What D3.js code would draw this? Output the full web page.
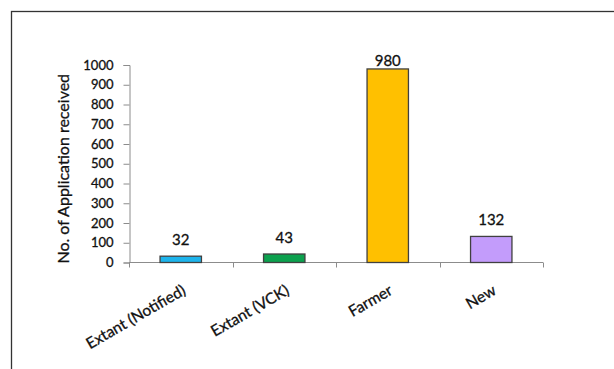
<!DOCTYPE html>
<html>
<head>
<meta charset="utf-8">
<script src="https://cdn.jsdelivr.net/npm/d3@7"></script>
<style>
  html, body { margin: 0; padding: 0; background: #fff; }
  svg { display: block; }
  text { font-family: Lato, "Open Sans", sans-serif; fill: #111; stroke: #111; stroke-width: 0.3px; }
</style>
</head>
<body>
<svg id="chart" width="614" height="369"></svg>
<script>
// Applications received per category
const categories = ["Extant (Notified)", "Extant (VCK)", "Farmer", "New"];
const applications = [32, 43, 980, 132];
const barColors = ["#1db4ec", "#0ca14e", "#ffc000", "#c39cfb"];
const yTicks = [0, 100, 200, 300, 400, 500, 600, 700, 800, 900, 1000];
const yTitle = "No. of Application received";

const svg = d3.select("#chart");
const W = 614, H = 369;

// outer frame
svg.append("rect")
  .attr("x", 11.5).attr("y", 11.5)
  .attr("width", W + 20).attr("height", H + 20)
  .attr("fill", "none").attr("stroke", "#333").attr("stroke-width", 1.3);

const plot = { left: 129, right: 543, top: 65, bottom: 262.5 };

const x = d3.scaleBand()
  .domain(categories)
  .range([plot.left, plot.right])
  .paddingInner(0.6).paddingOuter(0.3);

const xBoundary = d3.scalePoint()
  .domain(d3.range(categories.length + 1))
  .range([plot.left, plot.right]);

const y = d3.scaleLinear()
  .domain([0, 1000])
  .range([plot.bottom, plot.top]);

const axisColor = "#8c8c8c";

// y axis
const yAxis = svg.append("g")
  .attr("transform", `translate(${plot.left + 0.5},0)`)
  .call(d3.axisLeft(y).tickValues(yTicks).tickSize(6).tickPadding(10).tickFormat(d3.format("d")));
yAxis.select(".domain").attr("stroke", axisColor);
yAxis.selectAll(".tick line").attr("stroke", axisColor);
yAxis.selectAll(".tick text")
  .style("font-family", "Lato, sans-serif")
  .style("font-size", "13px")
  .attr("fill", "#111");

// x axis: ticks at category boundaries
const xAxisG = svg.append("g").attr("transform", `translate(0,${plot.bottom})`);
xAxisG.append("line")
  .attr("x1", plot.left).attr("x2", plot.right)
  .attr("y1", 0).attr("y2", 0)
  .attr("stroke", axisColor);
xAxisG.selectAll("line.tick")
  .data(xBoundary.domain())
  .join("line")
  .attr("class", "tick")
  .attr("x1", d => Math.round(xBoundary(d)) + 0.5)
  .attr("x2", d => Math.round(xBoundary(d)) + 0.5)
  .attr("y1", 0).attr("y2", 5)
  .attr("stroke", axisColor);

// category labels, rotated
svg.append("g").selectAll("text")
  .data(categories)
  .join("text")
  .attr("transform", d => `translate(${x(d) + x.bandwidth() / 2 + 6},${plot.bottom + 31}) rotate(-30)`)
  .attr("text-anchor", "end")
  .style("font-size", "15.5px")
  .text(d => d);

// bars
svg.append("g").selectAll("rect")
  .data(applications)
  .join("rect")
  .attr("x", (d, i) => x(categories[i]))
  .attr("y", d => y(d))
  .attr("width", x.bandwidth())
  .attr("height", d => y(0) - y(d))
  .attr("fill", (d, i) => barColors[i])
  .attr("stroke", "#404040")
  .attr("stroke-width", 1.3);

// value labels
svg.append("g").selectAll("text")
  .data(applications)
  .join("text")
  .attr("x", (d, i) => x(categories[i]) + x.bandwidth() / 2)
  .attr("y", d => Math.max(y(d) - 11, plot.top + 1))
  .attr("text-anchor", "middle")
  .style("font-size", "15px")
  .text(d => d);

// y axis title
svg.append("text")
  .attr("transform", `translate(69,${(plot.top + plot.bottom) / 2 + 5}) rotate(-90)`)
  .attr("text-anchor", "middle")
  .style("font-size", "16px")
  .text(yTitle);
</script>
</body>
</html>
